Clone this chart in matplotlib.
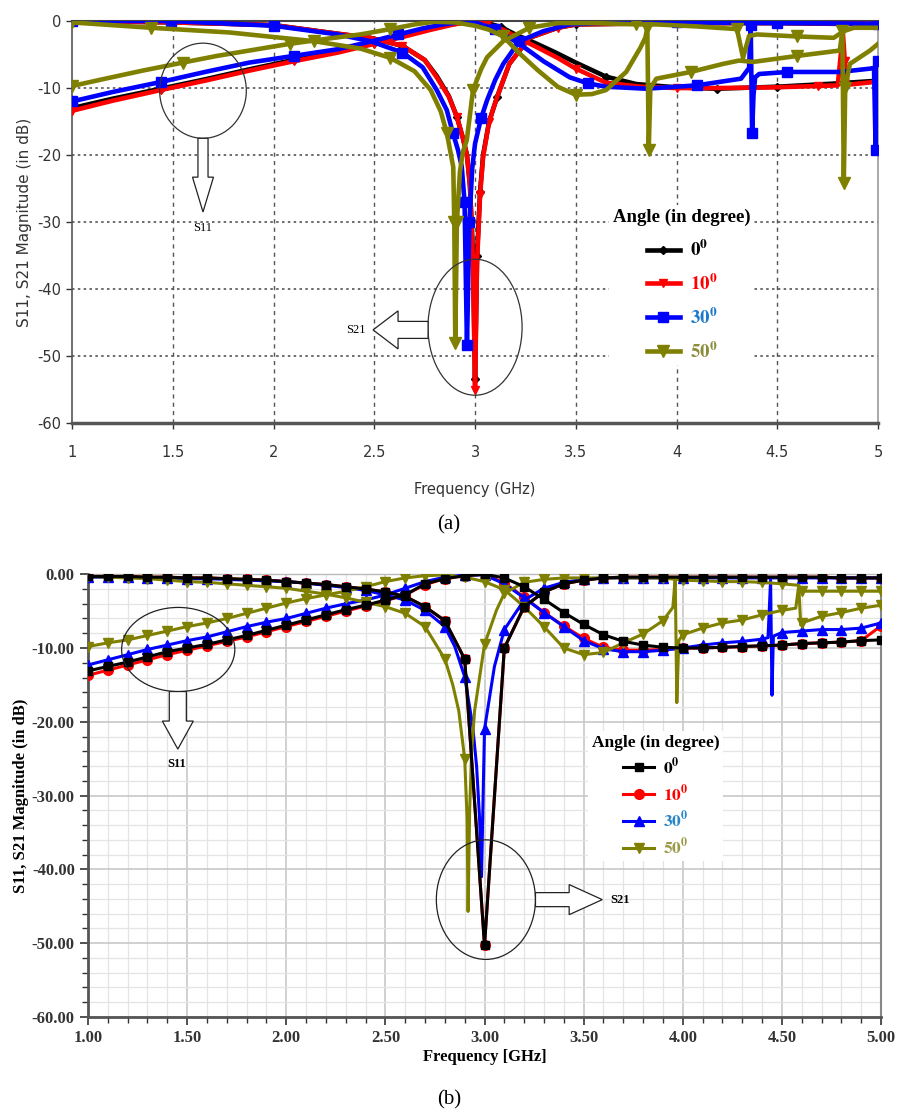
import numpy as np
import matplotlib
matplotlib.use("Agg")
import matplotlib.pyplot as plt
from matplotlib.lines import Line2D
from matplotlib.patches import Ellipse, Polygon
from matplotlib.ticker import MultipleLocator, FormatStrFormatter

plt.rcParams['mathtext.fontset'] = 'stix'

# ---------------------------------------------------------------- series set-up
angles = ['0', '10', '30', '50']
line_colors = ['#000000', '#ff0000', '#0000ff', '#808000']
text_colors_a = ['#000000', '#ff0000', '#1f78c8', '#8c8c3a']
text_colors_b = ['#000000', '#ff0000', '#2a86c8', '#9a9a48']

# ---------------------------------------------------------------- panel (a) data
# S11 (dB) versus frequency (GHz)
a_s11_f_0 = [1.0, 1.2, 1.44, 1.66, 1.88, 2.1, 2.32, 2.5, 2.65, 2.78, 2.88, 2.95, 3.0, 3.06,
             3.13, 3.2, 3.3, 3.4, 3.5, 3.65, 3.8, 4.0, 4.2, 4.5, 4.8, 5.0]
a_s11_db_0 = [-13.0, -11.6, -10.1, -8.7, -7.2, -5.8, -4.5, -3.3, -2.2, -1.2, -0.5, -0.2, -0.1, -0.3,
              -0.9, -2.0, -3.3, -4.7, -6.2, -8.3, -9.4, -9.9, -10.1, -9.8, -9.3, -8.9]

a_s11_f_10 = [1.0, 1.2, 1.44, 1.66, 1.88, 2.1, 2.32, 2.5, 2.65, 2.78, 2.88, 2.95, 3.0, 3.06, 3.14,
              3.22, 3.32, 3.41, 3.5, 3.65, 3.82, 4.0, 4.2, 4.48, 4.7, 4.8, 4.815, 4.825, 4.835,
              4.85, 4.98, 5.0]
a_s11_db_10 = [-13.4, -11.9, -10.3, -8.9, -7.4, -6.0, -4.7, -3.4, -2.3, -1.3, -0.6, -0.2, -0.1, -0.5,
               -1.3, -2.6, -4.1, -5.5, -7.1, -9.2, -9.8, -10.0, -10.0, -9.9, -9.7, -9.6, -5.0, -1.5,
               -6.0, -9.5, -9.1, -9.0]

a_s11_f_30 = [1.0, 1.2, 1.44, 1.66, 1.88, 2.1, 2.32, 2.49, 2.62, 2.74, 2.84, 2.92, 2.97, 3.02, 3.1,
              3.22, 3.34, 3.47, 3.56, 3.65, 3.85, 4.1, 4.32, 4.36, 4.368, 4.375, 4.382, 4.39, 4.41,
              4.55, 4.81, 4.96, 4.98, 4.988, 4.995, 5.0]
a_s11_db_30 = [-12.0, -10.6, -9.1, -7.6, -6.2, -5.2, -4.2, -3.0, -2.0, -1.1, -0.5, -0.2, -0.1, -0.4,
               -1.2, -3.4, -6.0, -8.4, -9.3, -9.8, -10.1, -9.6, -8.6, -7.0, -0.6, -16.7, -11.0,
               -8.4, -7.9, -7.6, -7.6, -7.1, -7.0, -19.2, -12.0, -6.0]

a_s11_f_50 = [1.0, 1.15, 1.35, 1.55, 1.72, 1.9, 2.08, 2.25, 2.43, 2.58, 2.7, 2.8, 2.9, 3.0, 3.07,
              3.14, 3.22, 3.31, 3.41, 3.5, 3.58, 3.65, 3.75, 3.82, 3.845, 3.855, 3.862, 3.87, 3.9,
              4.07, 4.23, 4.31, 4.38, 4.6, 4.81, 4.823, 4.83, 4.837, 4.86, 4.96, 5.0]
a_s11_db_50 = [-9.7, -8.7, -7.4, -6.2, -5.2, -4.3, -3.4, -2.7, -2.0, -1.2, -0.5, -0.1, -0.2, -0.7,
               -1.3, -2.3, -4.8, -7.3, -9.8, -11.0, -10.9, -10.3, -7.6, -4.0, -2.5, -1.0, -19.2,
               -10.0, -8.6, -7.6, -6.4, -5.9, -6.1, -5.2, -4.4, -1.5, -24.1, -10.0, -6.4, -4.4, -3.4]

# S21 (dB) versus frequency (GHz)
a_s21_f_0 = [1.0, 1.5, 2.0, 2.32, 2.48, 2.64, 2.75, 2.81, 2.87, 2.91, 2.94, 2.96, 2.975, 2.99, 3.0,
             3.01, 3.025, 3.04, 3.07, 3.11, 3.17, 3.27, 3.41, 3.5, 4.0, 4.5, 5.0]
a_s21_db_0 = [0.0, -0.2, -0.6, -1.9, -2.5, -3.7, -5.8, -8.2, -11.2, -14.3, -17.5, -20.0, -24.6, -35.0,
              -53.5, -35.0, -25.5, -20.0, -15.0, -11.3, -6.4, -2.5, -1.0, -0.5, -0.3, -0.3, -0.5]

a_s21_f_10 = [1.0, 1.5, 2.0, 2.32, 2.48, 2.64, 2.75, 2.81, 2.87, 2.91, 2.94, 2.96, 2.975, 2.99, 3.0,
              3.01, 3.025, 3.04, 3.07, 3.11, 3.17, 3.27, 3.41, 3.5, 4.0, 4.5, 5.0]
a_s21_db_10 = [0.0, -0.2, -0.6, -1.9, -2.5, -3.7, -5.8, -8.4, -11.3, -14.3, -17.5, -20.0, -24.7,
               -36.0, -55.0, -36.0, -26.0, -20.3, -15.0, -11.3, -6.4, -2.5, -1.0, -0.5, -0.3, -0.3, -0.4]

a_s21_f_30 = [1.0, 1.49, 2.0, 2.32, 2.48, 2.64, 2.74, 2.81, 2.86, 2.89, 2.915, 2.934, 2.948, 2.96,
              2.972, 2.986, 3.0, 3.03, 3.06, 3.1, 3.14, 3.22, 3.34, 3.47, 3.6, 4.0, 4.5, 5.0]
a_s21_db_30 = [0.0, 0.0, -0.7, -2.0, -3.0, -4.7, -6.9, -10.3, -13.3, -16.7, -19.2, -21.7, -27.0,
               -48.4, -30.0, -22.0, -18.3, -14.5, -11.8, -8.8, -6.4, -3.0, -1.5, -0.5, -0.3, -0.2,
               -0.3, -0.4]

a_s21_f_50 = [1.0, 1.39, 1.78, 2.2, 2.43, 2.58, 2.7, 2.78, 2.83, 2.86, 2.892, 2.897, 2.902, 2.91,
              2.925, 2.94, 2.959, 2.99, 3.03, 3.06, 3.14, 3.27, 3.41, 3.6, 3.8, 3.9, 4.1, 4.3, 4.33,
              4.36, 4.4, 4.6, 4.78, 4.83, 4.88, 5.0]
a_s21_db_50 = [-0.2, -1.0, -1.7, -3.0, -4.1, -5.5, -7.5, -10.3, -13.5, -16.7, -21.8, -30.0, -48.0,
               -30.0, -22.5, -19.5, -17.8, -10.3, -7.2, -5.4, -3.0, -1.0, -0.3, -0.3, -0.5, -0.5,
               -0.8, -1.2, -5.5, -2.2, -2.0, -2.3, -2.5, -1.5, -1.0, -1.0]

# ---------------------------------------------------------------- panel (b) data
# simulator sweep: 0.1 GHz steps, extra samples near the resonances
b_step = np.round(np.arange(1.0, 5.0001, 0.1), 1)

b_s11_db_0 = [-13.1, -12.5, -11.9, -11.2, -10.5, -10.0, -9.5, -8.9, -8.3, -7.6, -6.9,
              -6.2, -5.5, -4.8, -4.2, -3.5, -2.8, -1.3, -0.6, -0.2, 0.0,
              -0.5, -1.7, -3.4, -5.2, -6.8, -8.2, -9.1, -9.6, -9.9, -10.0,
              -10.0, -9.9, -9.8, -9.7, -9.6, -9.4, -9.3, -9.2, -9.0, -8.9]
b_s21_db_0 = [-0.3, -0.3, -0.3, -0.4, -0.4, -0.5, -0.5, -0.6, -0.7, -0.8, -1.0,
              -1.2, -1.4, -1.7, -2.0, -2.4, -3.0, -4.4, -6.3, -11.5, -50.3,
              -10.0, -4.4, -2.4, -1.3, -0.8, -0.5, -0.4, -0.4, -0.4, -0.4,
              -0.4, -0.4, -0.4, -0.4, -0.4, -0.4, -0.4, -0.5, -0.5, -0.5]

b_s11_db_10 = [-13.7, -13.0, -12.3, -11.6, -10.9, -10.3, -9.7, -9.1, -8.5, -7.8, -7.1,
               -6.4, -5.7, -5.0, -4.3, -3.6, -2.8, -1.4, -0.6, -0.2, 0.0,
               -1.2, -3.1, -5.2, -7.0, -8.7, -9.9, -10.3, -10.3, -10.2, -10.0,
               -10.0, -9.9, -9.8, -9.7, -9.6, -9.4, -9.3, -9.2, -9.0, -7.0]
b_s21_db_10 = [-0.3, -0.3, -0.3, -0.4, -0.4, -0.5, -0.5, -0.6, -0.7, -0.8, -1.0,
               -1.2, -1.4, -1.7, -2.0, -2.4, -3.0, -4.4, -6.3, -11.5, -50.3,
               -10.0, -4.4, -2.4, -1.3, -0.8, -0.5, -0.4, -0.4, -0.4, -0.4,
               -0.4, -0.4, -0.4, -0.4, -0.4, -0.4, -0.4, -0.5, -0.5, -0.5]

b_s11_f_30 = [1.0, 1.1, 1.2, 1.3, 1.4, 1.5, 1.6, 1.7, 1.8, 1.9, 2.0,
              2.1, 2.2, 2.3, 2.4, 2.5, 2.6, 2.7, 2.8, 2.9, 3.0,
              3.1, 3.2, 3.3, 3.4, 3.5, 3.6, 3.7, 3.8, 3.9, 4.0,
              4.1, 4.2, 4.3, 4.4, 4.43, 4.443, 4.45, 4.457, 4.5, 4.6, 4.7, 4.8, 4.9, 5.0]
b_s11_db_30 = [-12.3, -11.6, -10.9, -10.2, -9.6, -9.0, -8.5, -7.8, -7.1, -6.5, -6.0,
               -5.3, -4.6, -4.0, -3.5, -2.8, -1.9, -1.0, -0.4, -0.1, -0.1,
               -1.3, -3.2, -5.2, -7.1, -9.0, -10.1, -10.5, -10.5, -10.3, -10.0,
               -9.6, -9.3, -9.1, -8.8, -8.6, -0.8, -16.4, -8.4, -7.9, -7.7, -7.5, -7.5, -7.3, -6.6]
b_s21_f_30 = [1.0, 1.1, 1.2, 1.3, 1.4, 1.5, 1.6, 1.7, 1.8, 1.9, 2.0,
              2.1, 2.2, 2.3, 2.4, 2.5, 2.6, 2.7, 2.8, 2.85, 2.9, 2.94, 2.96, 2.975, 2.985, 2.993,
              3.0, 3.05, 3.1, 3.2, 3.3, 3.4, 3.5, 3.6, 3.7, 3.8, 3.9, 4.0,
              4.1, 4.2, 4.3, 4.4, 4.5, 4.6, 4.7, 4.8, 4.9, 5.0]
b_s21_db_30 = [-0.4, -0.4, -0.4, -0.5, -0.5, -0.6, -0.6, -0.7, -0.8, -0.9, -1.0,
               -1.2, -1.5, -1.8, -2.2, -2.8, -3.5, -4.9, -7.1, -9.8, -13.9, -20.5, -26.0, -33.0,
               -41.0, -30.0, -21.0, -12.5, -7.5, -3.5, -1.9, -1.1, -0.7, -0.5, -0.5, -0.5, -0.5,
               -0.5, -0.5, -0.5, -0.5, -0.5, -0.5, -0.5, -0.5, -0.5, -0.5, -0.5]

b_s11_f_50 = [1.0, 1.1, 1.2, 1.3, 1.4, 1.5, 1.6, 1.7, 1.8, 1.9, 2.0,
              2.1, 2.2, 2.3, 2.4, 2.5, 2.6, 2.7, 2.8, 2.9, 3.0,
              3.1, 3.2, 3.3, 3.4, 3.5, 3.6, 3.7, 3.8, 3.9, 3.95, 3.962, 3.97, 3.98,
              4.0, 4.1, 4.2, 4.3, 4.4, 4.5, 4.57, 4.585, 4.595, 4.6, 4.7, 4.8, 4.9, 5.0]
b_s11_db_50 = [-9.8, -9.3, -8.9, -8.3, -7.7, -7.1, -6.6, -6.0, -5.3, -4.6, -3.9,
               -3.3, -2.8, -2.3, -1.7, -1.0, -0.5, -0.2, -0.1, -0.4, -1.0,
               -2.1, -4.4, -7.1, -10.0, -10.9, -10.6, -9.3, -8.1, -6.3, -4.5, -0.5, -17.4, -9.0,
               -8.2, -7.3, -6.6, -6.2, -5.5, -4.9, -4.6, -1.5, -6.9, -6.6, -5.7, -5.2, -4.6, -4.2]
b_s21_f_50 = [1.0, 1.1, 1.2, 1.3, 1.4, 1.5, 1.6, 1.7, 1.8, 1.9, 2.0,
              2.1, 2.2, 2.3, 2.4, 2.5, 2.6, 2.7, 2.8, 2.84, 2.87, 2.9, 2.912, 2.917, 2.925,
              2.935, 2.95, 3.0, 3.06, 3.1, 3.2, 3.3, 3.4, 3.5, 3.6, 3.7, 3.8, 3.9, 4.0,
              4.1, 4.2, 4.3, 4.4, 4.5, 4.585, 4.595, 4.6, 4.7, 4.8, 4.9, 5.0]
b_s21_db_50 = [-0.3, -0.4, -0.5, -0.6, -0.8, -1.0, -1.1, -1.3, -1.5, -1.7, -1.9,
               -2.3, -2.7, -3.2, -3.8, -4.4, -5.3, -7.1, -11.5, -15.0, -18.5, -25.0, -33.0, -45.7,
               -32.0, -24.0, -18.5, -9.5, -4.9, -2.6, -1.1, -0.7, -0.5, -0.5, -0.5, -0.5, -0.5,
               -0.5, -0.8, -0.9, -1.0, -1.0, -1.1, -1.3, -1.5, -2.3, -2.3, -2.3, -2.3, -2.3, -2.3]

# ---------------------------------------------------------------- figure
fig = plt.figure(figsize=(8.99, 11.2), dpi=100)
ax_a = fig.add_axes([0.0801, 0.6223, 0.8966, 0.3589])
ax_b = fig.add_axes([0.0979, 0.0920, 0.8821, 0.3953])

SERIF = ['Liberation Serif', 'DejaVu Serif']

# ----- panel (a)
a_markers = ['D', 'v', 's', 'v']
a_msize = [4.5, 5.5, 7.5, 8.5]
a_series = [
    (a_s11_f_0, a_s11_db_0, a_s21_f_0, a_s21_db_0),
    (a_s11_f_10, a_s11_db_10, a_s21_f_10, a_s21_db_10),
    (a_s11_f_30, a_s11_db_30, a_s21_f_30, a_s21_db_30),
    (a_s11_f_50, a_s11_db_50, a_s21_f_50, a_s21_db_50),
]
for i, (f11, d11, f21, d21) in enumerate(a_series):
    for f, d in ((f11, d11), (f21, d21)):
        ax_a.plot(f, d, color=line_colors[i], lw=3.3, marker=a_markers[i],
                  ms=a_msize[i], markevery=0.12, solid_joinstyle='round', zorder=3 + i)

ax_a.set_xlim(1, 5)
ax_a.set_ylim(-60, 0)
ax_a.xaxis.set_major_locator(MultipleLocator(0.5))
ax_a.yaxis.set_major_locator(MultipleLocator(10))
ax_a.xaxis.set_major_formatter(FormatStrFormatter('%g'))
ax_a.yaxis.set_major_formatter(FormatStrFormatter('%g'))
ax_a.grid(False)
for xv in np.arange(1.5, 5.0, 0.5):
    ax_a.axvline(xv, color='#555555', lw=1.0, ls=(0, (3, 3)), zorder=1)
for yv in np.arange(-50, 0, 10):
    ax_a.axhline(yv, color='#555555', lw=1.2, ls=(0, (1.5, 2.0)), zorder=1)
ax_a.tick_params(labelsize=10.5, colors='#333333', length=4, width=1, direction='out')
ax_a.tick_params(axis='x', pad=12)
for name, lw, col in (('top', 1.5, '#444444'), ('bottom', 2.5, '#555555'),
                      ('left', 1.2, '#555555'), ('right', 1.2, '#999999')):
    ax_a.spines[name].set_linewidth(lw)
    ax_a.spines[name].set_color(col)
ax_a.set_xlabel('Frequency (GHz)', fontsize=10.5, color='#333333', labelpad=16)
ax_a.set_ylabel('S11, S21 Magnitude (in dB)', fontsize=11, color='#333333', labelpad=4)

# ----- panel (b)
b_markers = ['s', 'o', '^', 'v']
b_msize = [5.5, 7, 6.5, 7]
b_zorder = [6, 3, 4, 5]
b_series = [
    (b_step, b_s11_db_0, b_step, b_s21_db_0),
    (b_step, b_s11_db_10, b_step, b_s21_db_10),
    (b_s11_f_30, b_s11_db_30, b_s21_f_30, b_s21_db_30),
    (b_s11_f_50, b_s11_db_50, b_s21_f_50, b_s21_db_50),
]
for i, (f11, d11, f21, d21) in enumerate(b_series):
    for f, d in ((f11, d11), (f21, d21)):
        f = np.asarray(f, dtype=float)
        on_step = np.isclose(f * 10, np.round(f * 10))
        ax_b.plot(f, d, color=line_colors[i], lw=2.2, marker=b_markers[i], ms=b_msize[i],
                  markevery=list(np.flatnonzero(on_step)), zorder=b_zorder[i],
                  markeredgecolor=line_colors[i])

ax_b.set_xlim(1, 5)
ax_b.set_ylim(-60, 0)
ax_b.xaxis.set_major_locator(MultipleLocator(0.5))
ax_b.xaxis.set_minor_locator(MultipleLocator(0.1))
ax_b.yaxis.set_major_locator(MultipleLocator(10))
ax_b.yaxis.set_minor_locator(MultipleLocator(2))
ax_b.xaxis.set_major_formatter(FormatStrFormatter('%.2f'))
ax_b.yaxis.set_major_formatter(FormatStrFormatter('%.2f'))
ax_b.grid(which='major', color='#c8c8c8', lw=1.2, zorder=0)
ax_b.grid(which='minor', color='#e4e4e4', lw=0.9, zorder=0)
ax_b.set_axisbelow(True)
ax_b.tick_params(which='major', length=6, width=1.2, colors='#333333', direction='out')
ax_b.tick_params(which='minor', length=4, width=1.0, colors='#333333', direction='out')
for lab in ax_b.get_xticklabels() + ax_b.get_yticklabels():
    lab.set_fontfamily(SERIF)
    lab.set_fontweight('bold')
    lab.set_fontsize(12)
for name, lw, col in (('top', 1.0, '#bbbbbb'), ('bottom', 2.0, '#555555'),
                      ('left', 2.0, '#555555'), ('right', 1.5, '#888888')):
    ax_b.spines[name].set_linewidth(lw)
    ax_b.spines[name].set_color(col)
ax_b.set_xlabel('Frequency [GHz]', fontsize=12, fontweight='bold', family=SERIF, labelpad=2)
ax_b.set_ylabel('S11, S21 Magnitude (in dB)', fontsize=12, fontweight='bold', family=SERIF,
                labelpad=2)

# ----- legends
def add_legend(ax, markers, msizes, lw, text_colors, anchor, fs, spacing):
    handles = [Line2D([], [], color=c, lw=lw, marker=m, ms=s)
               for c, m, s in zip(line_colors, markers, msizes)]
    labels = [r'$\mathbf{%s^{0}}$' % a for a in angles]
    leg = ax.legend(handles, labels, loc='upper left', bbox_to_anchor=anchor,
                    title='Angle (in degree)', frameon=True, fancybox=False,
                    framealpha=1.0, facecolor='white', edgecolor='none',
                    fontsize=fs, handlelength=1.8, handletextpad=0.5,
                    labelspacing=spacing, borderpad=0.2)
    leg.get_title().set_fontfamily(SERIF)
    leg.get_title().set_fontweight('bold')
    leg.get_title().set_fontsize(fs)
    for t, c in zip(leg.get_texts(), text_colors):
        t.set_color(c)
    leg.set_zorder(20)
    return leg

add_legend(ax_a, a_markers, a_msize, 3.3, text_colors_a, (0.655, 0.565), 13.5, 0.72)
add_legend(ax_b, b_markers, b_msize, 2.2, text_colors_b, (0.62, 0.665), 12.5, 0.35)

# ----- call-outs: ellipse, block arrow and port label
def block_arrow(ax, x0, y0, x1, y1, x2, y2, shaft, head, vertical):
    if vertical:
        pts = [(x0 - shaft, y0), (x0 + shaft, y0), (x0 + shaft, y1), (x0 + head, y1),
               (x0, y2), (x0 - head, y1), (x0 - shaft, y1)]
    else:
        pts = [(x0, y0 - shaft), (x0, y0 + shaft), (x1, y0 + shaft), (x1, y0 + head),
               (x2, y0), (x1, y0 - head), (x1, y0 - shaft)]
    ax.add_patch(Polygon(pts, closed=True, facecolor='white', edgecolor='#222222',
                         lw=0.9, zorder=15))

# panel (a)
ax_a.add_patch(Ellipse((1.65, -10.4), 0.43, 14.2, fill=False, ec='#333333', lw=0.9, zorder=15))
block_arrow(ax_a, 1.65, -17.5, None, -23.3, None, -28.5, 0.025, 0.052, True)
ax_a.text(1.65, -30.9, 'S11', family=SERIF, fontsize=9, ha='center', va='center', zorder=15)
ax_a.add_patch(Ellipse((3.0, -45.7), 0.467, 20.3, fill=False, ec='#333333', lw=0.9, zorder=15))
block_arrow(ax_a, 2.767, -46.1, 2.618, None, 2.494, None, 1.27, 2.84, False)
ax_a.text(2.41, -46.1, 'S21', family=SERIF, fontsize=9, ha='center', va='center', zorder=15)

# panel (b)
ax_b.add_patch(Ellipse((1.455, -10.2), 0.571, 11.4, fill=False, ec='#222222', lw=0.9, zorder=15))
block_arrow(ax_b, 1.453, -15.9, None, -19.9, None, -23.7, 0.043, 0.078, True)
ax_b.text(1.445, -25.7, 'S11', family=SERIF, fontsize=9, fontweight='bold', ha='center',
          va='center', zorder=15)
ax_b.add_patch(Ellipse((3.007, -44.1), 0.5, 16.2, fill=False, ec='#222222', lw=0.9, zorder=15))
block_arrow(ax_b, 3.257, -44.1, 3.427, None, 3.594, None, 0.95, 2.04, False)
ax_b.text(3.635, -44.1, 'S21', family=SERIF, fontsize=9, fontweight='bold', ha='left',
          va='center', zorder=15)

# ----- panel captions
fig.text(0.4995, 0.531, '(a)', family=SERIF, fontsize=15, ha='center', va='center')
fig.text(0.4995, 0.018, '(b)', family=SERIF, fontsize=15, ha='center', va='center')

fig.savefig('out.png', dpi=100)
